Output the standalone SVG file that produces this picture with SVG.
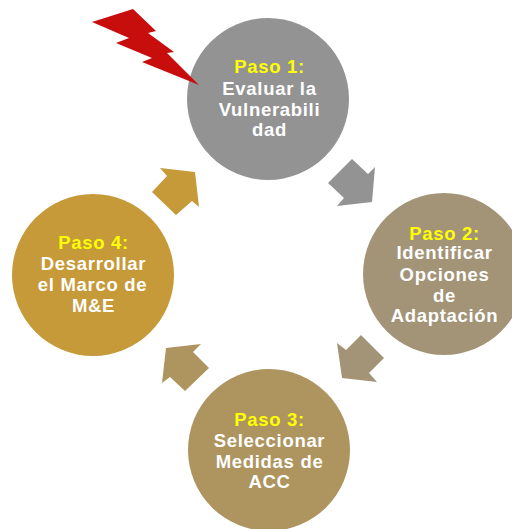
<svg xmlns="http://www.w3.org/2000/svg" width="512" height="529" viewBox="0 0 512 529">
<style>
text{font-family:"Liberation Sans",Arial,sans-serif;font-weight:bold;font-size:18.5px;letter-spacing:.7px;text-anchor:middle;fill:#fff}
.y{fill:#ff0}
</style>
<rect width="512" height="529" fill="#fff"/>
<g id="connectors">
<polygon fill="#939393" points="352,159 368,174 375,167 372,202 337,206 344,198 328,183"/>
<polygon fill="#a39478" points="361,335 384,358 369,373 377,382 342,378 337,343 346,350"/>
<polygon fill="#ae945e" points="209,368 185,391 170,377 162,383 166,348 201,344 193,352"/>
<polygon fill="#c69939" points="152,192 176,215 192,201 199,207 195,172 160,168 167,176"/>
</g>
<g id="step1"><circle cx="268" cy="99" r="81" fill="#939393"/>
<text class="y" x="269.5" y="73">Paso 1:</text><text x="269.5" y="95">Evaluar la</text><text x="269.5" y="116">Vulnerabili</text><text x="269.5" y="136">dad</text></g>
<g id="step2"><circle cx="444" cy="274" r="81" fill="#a39478"/>
<text class="y" x="444.5" y="240">Paso 2:</text><text x="444.5" y="259">Identificar</text><text x="444.5" y="281">Opciones</text><text x="444.5" y="302">de</text><text x="444.5" y="322">Adaptación</text></g>
<g id="step3"><circle cx="269" cy="450" r="81" fill="#ae945e"/>
<text class="y" x="269.5" y="426">Paso 3:</text><text x="269.5" y="447">Seleccionar</text><text x="269.5" y="468">Medidas de</text><text x="269.5" y="488">ACC</text></g>
<g id="step4"><circle cx="93" cy="275" r="81" fill="#c69939"/>
<text class="y" x="93.5" y="249">Paso 4:</text><text x="93.5" y="270">Desarrollar</text><text x="92.5" y="291">el Marco de</text><text x="93.5" y="312">M&amp;E</text></g>
<polygon id="bolt" fill="#c80d0d" points="92,22 133,9 156,31 148,33 174,52 167,53 199,85 142,62 152,58 116,43 129,38"/>
</svg>
